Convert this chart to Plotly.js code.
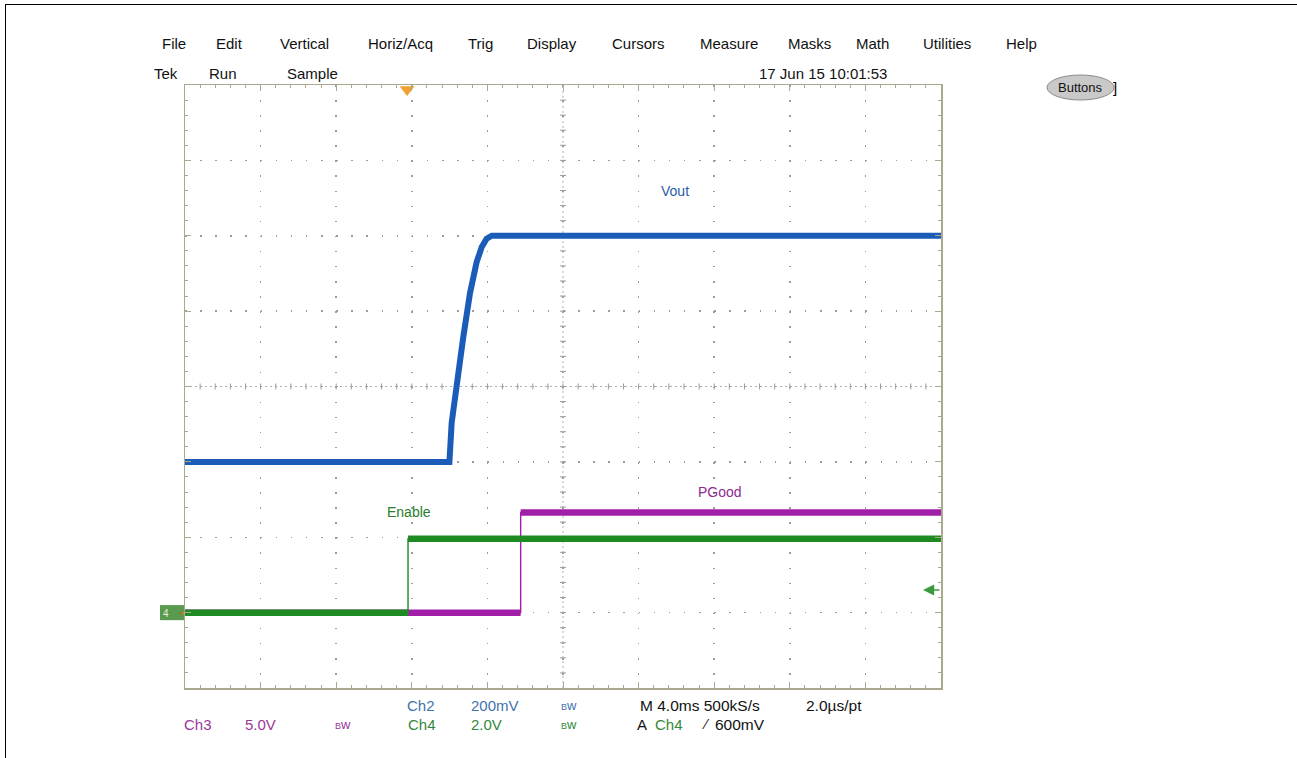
<!DOCTYPE html>
<html>
<head>
<meta charset="utf-8">
<script src="https://cdn.plot.ly/plotly-3.0.1.min.js"></script>
<style>
  html, body { margin: 0; padding: 0; background: #fff; }
  #chart { width: 1297px; height: 758px; }
  #frame { position: absolute; left: 5px; top: 4px; right: 0; bottom: 0;
           border-top: 1px solid #000; border-left: 1px solid #000; pointer-events: none; }
</style>
</head>
<body>
<div id="chart"></div>
<div id="frame"></div>
<script>
// ---------------- data (time in ms, signal in volts) ----------------
const voutTime  = [-11.75, 2.24, 2.36, 2.63, 2.97, 3.33, 3.68, 3.95, 4.21, 4.48, 28.25];
const voutVolts = [0.0,    0.0,  0.104, 0.21, 0.33, 0.448, 0.53, 0.57, 0.592, 0.6, 0.6];

const enableTime  = [-11.75, 0.05, 0.05, 28.25];
const enableVolts = [0.0,    0.0,  1.96, 1.96];

const pgoodTime  = [-11.75, 6.01, 6.01, 28.25];
const pgoodVolts = [0.0,    0.0,  6.65, 6.65];

// channel settings (V/div and ground position in divisions)
const ch2 = { scale: 0.2, pos: -1 };   // Vout
const ch3 = { scale: 5.0, pos: -3 };   // PGood
const ch4 = { scale: 2.0, pos: -3 };   // Enable
const triggerTime = 0;                 // ms
const triggerLevel = 0.6;              // V on Ch4

const menuItems = ['File','Edit','Vertical','Horiz/Acq','Trig','Display','Cursors','Measure','Masks','Math','Utilities','Help'];
const statusItems = ['Tek','Run','Sample'];
const dateText = '17 Jun 15 10:01:53';

// ---------------- layout helpers ----------------
const L = 185, R = 941, T = 85, B = 688;
const W = 1297, H = 758;
const X0 = -11.75, X1 = 28.25;
const P = px => (px - L) / (R - L);
const Q = py => (B - py) / (B - T);

const toDiv = (v, ch) => v.map(x => x / ch.scale + ch.pos);
function levelsOnly(xs, ys) { // break the trace at vertical jumps
  const ox = [], oy = [];
  for (let i = 0; i < xs.length; i++) {
    ox.push(xs[i]); oy.push(ys[i]);
    if (i < xs.length - 1 && xs[i] === xs[i + 1]) { ox.push(null); oy.push(null); }
  }
  return [ox, oy];
}

const BLUE = '#1a5cb8', GREEN = '#1e8a22', PURPLE = '#a11ea8';

const enY = toDiv(enableVolts, ch4);
const pgY = toDiv(pgoodVolts, ch3);
const voY = toDiv(voutVolts, ch2);
const [enLx, enLy] = levelsOnly(enableTime, enY);
const [pgLx, pgLy] = levelsOnly(pgoodTime, pgY);

const traces = [
  { x: pgoodTime, y: pgY, mode: 'lines', line: { color: PURPLE, width: 1.4 }, hoverinfo: 'skip' },
  { x: pgLx, y: pgLy, mode: 'lines', line: { color: PURPLE, width: 6.5 }, hoverinfo: 'skip', connectgaps: false },
  { x: enableTime, y: enY, mode: 'lines', line: { color: GREEN, width: 1.4 }, hoverinfo: 'skip' },
  { x: enLx, y: enLy, mode: 'lines', line: { color: GREEN, width: 6.5 }, hoverinfo: 'skip', connectgaps: false },
  { x: voutTime, y: voY, mode: 'lines', line: { color: BLUE, width: 6 }, hoverinfo: 'skip' },
  { x: [triggerTime], y: [3.94], mode: 'markers', cliponaxis: false,
    marker: { symbol: 'triangle-down', size: 13, color: '#f0a030' }, hoverinfo: 'skip' }
];

// ---------------- graticule centre cross ----------------
const GRID = '#9c9c9c', FRAME = '#aaa88e';
const shapes = [];
const xc = (X0 + X1) / 2;
shapes.push({ type: 'line', xref: 'x', yref: 'y', x0: X0, x1: X1, y0: 0, y1: 0,
  line: { color: '#b0b0b0', width: 1, dash: '2px,3px' }, layer: 'below' });
shapes.push({ type: 'line', xref: 'x', yref: 'y', x0: xc, x1: xc, y0: -4, y1: 4,
  line: { color: '#b0b0b0', width: 1, dash: '2px,3px' }, layer: 'below' });
for (let k = 1; k < 50; k++) {
  const x = X0 + k * 0.8;
  shapes.push({ type: 'line', xref: 'x', yref: 'y', ysizemode: 'pixel', yanchor: 0,
    x0: x, x1: x, y0: -3, y1: 3, line: { color: GRID, width: 1 }, layer: 'below' });
}
for (let k = 1; k < 40; k++) {
  const y = -4 + k * 0.2;
  shapes.push({ type: 'line', xref: 'x', yref: 'y', xsizemode: 'pixel', xanchor: xc,
    x0: -3, x1: 3, y0: y, y1: y, line: { color: GRID, width: 1 }, layer: 'below' });
}
// ground marker (Ch3/Ch4) at left
shapes.push({ type: 'rect', xref: 'paper', yref: 'y', x0: P(160), x1: P(184), y0: -2.9, y1: -3.1,
  fillcolor: '#5a9a4e', line: { width: 0 } });
// Buttons oval
shapes.push({ type: 'circle', xref: 'paper', yref: 'paper', x0: P(1047), x1: P(1114), y0: Q(100), y1: Q(75),
  fillcolor: '#c9c9c9', line: { color: '#8a8a8a', width: 1 } });

// ---------------- text ----------------
const FONT = 'Liberation Sans, Arial, sans-serif';
const ann = [];
const txt = (text, px, py, color, size, extra) => ann.push(Object.assign({
  text, xref: 'paper', yref: 'paper', x: P(px), y: Q(py), xanchor: 'center', yanchor: 'middle',
  showarrow: false, font: { family: FONT, size: size || 15, color: color || '#111' } }, extra || {}));

const menuX = [174, 229, 304, 400, 480, 552, 638, 729, 809, 872, 947, 1021];
menuItems.forEach((m, i) => txt(m, menuX[i], 43));
const statusX = [166, 223, 312];
statusItems.forEach((s, i) => txt(s, statusX[i], 74));
txt(dateText, 823, 74);
txt('Buttons', 1080, 88, '#111', 13);
txt(']', 1115, 88, '#000', 15);

// trace labels (data coordinates)
ann.push({ text: 'Vout', x: 14.2, y: 2.6, xref: 'x', yref: 'y', showarrow: false,
  font: { family: FONT, size: 14, color: '#2a5ca6' } });
ann.push({ text: 'PGood', x: 16.55, y: -1.4, xref: 'x', yref: 'y', showarrow: false,
  font: { family: FONT, size: 14, color: '#8e2a90' } });
ann.push({ text: 'Enable', x: 0.1, y: -1.66, xref: 'x', yref: 'y', showarrow: false,
  font: { family: FONT, size: 14, color: '#2a7d2a' } });

// trigger level arrow (Ch4)
ann.push({ text: '', xref: 'paper', yref: 'y', x: P(923), y: triggerLevel / ch4.scale + ch4.pos,
  ax: 18, ay: 0, showarrow: true, arrowhead: 2, arrowsize: 1.4, arrowwidth: 1.6, arrowcolor: '#3a9a3a' });
// ground marker glyph
txt('4', 166, 613, '#e8f0e0', 10);
ann.push({ text: '●', xref: 'paper', yref: 'y', x: P(178), y: -3, showarrow: false,
  font: { size: 7, color: '#d07020' } });

// readout
const CB = '#3f73ad', CP = '#9a3898', CG = '#33883a';
const bw = () => `<span style="font-size:9px">B</span><span style="font-size:13px">w</span>`;
txt('Ch2', 421, 705, CB);
txt('200mV', 495, 705, CB);
txt(bw(), 569, 705, CB, 13);
txt('M 4.0ms 500kS/s', 700, 705, '#111', 15.5);
txt('2.0µs/pt', 834, 705, '#111', 15.5);
txt('Ch3', 198, 724, CP);
txt('5.0V', 260, 724, CP);
txt(bw(), 343, 724, CP, 13);
txt('Ch4', 422, 724, CG);
txt('2.0V', 486, 724, CG);
txt(bw(), 569, 724, CG, 13);
txt('A', 642, 724);
txt('Ch4', 669, 724, CG);
txt('⁄', 706, 724, '#111', 14);
txt('600mV', 740, 724, '#111', 15.5);

const layout = {
  width: W, height: H,
  margin: { l: L, r: W - R, t: T, b: H - B, pad: 0 },
  paper_bgcolor: '#fff', plot_bgcolor: '#fff',
  showlegend: false,
  xaxis: {
    range: [X0, X1], tick0: X0, dtick: 4, showticklabels: false,
    showgrid: true, gridcolor: GRID, gridwidth: 1.5, griddash: '1.5px,13.58px',
    zeroline: false, showline: true, mirror: 'ticks', linecolor: FRAME, linewidth: 1.5,
    ticks: 'inside', ticklen: 6, tickcolor: FRAME, tickwidth: 1,
    minor: { tick0: X0, dtick: 0.8, ticks: 'inside', ticklen: 3, tickcolor: FRAME, showgrid: false },
    fixedrange: true
  },
  yaxis: {
    range: [-4, 4], tick0: -4, dtick: 1, showticklabels: false,
    showgrid: true, gridcolor: GRID, gridwidth: 1.5, griddash: '1.5px,13.62px',
    zeroline: false, showline: true, mirror: 'ticks', linecolor: FRAME, linewidth: 1.5,
    ticks: 'inside', ticklen: 6, tickcolor: FRAME, tickwidth: 1,
    minor: { tick0: -4, dtick: 0.2, ticks: 'inside', ticklen: 3, tickcolor: FRAME, showgrid: false },
    fixedrange: true
  },
  shapes, annotations: ann,
  font: { family: FONT }
};

Plotly.newPlot('chart', traces, layout, { staticPlot: true, displayModeBar: false });
</script>
</body>
</html>
